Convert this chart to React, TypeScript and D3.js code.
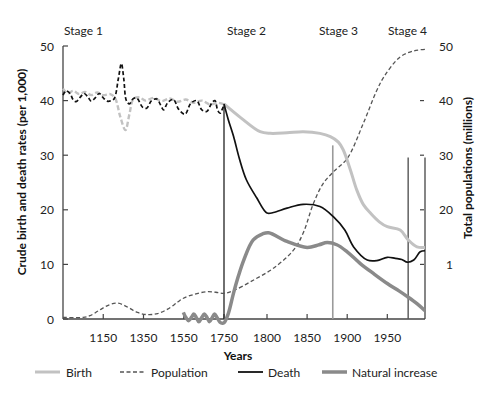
import React from "react";
import * as d3 from "d3";

type P = [number, number];

// ---- data (year, value) ----
const birthStage1: P[] = [
  [950, 42.2], [975, 41.3], [1000, 41.8], [1030, 41.2], [1060, 41.6], [1090, 41.0],
  [1120, 41.5], [1150, 41.0], [1185, 41.2], [1208, 40.5], [1235, 37.0], [1260, 34.6],
  [1280, 37.5], [1300, 40.3], [1330, 40.6], [1360, 40.0], [1400, 40.5], [1440, 39.9],
  [1480, 40.4], [1520, 39.8], [1560, 40.2], [1600, 39.6], [1640, 40.0], [1680, 39.3],
  [1720, 39.6], [1750, 39.3],
];
const deathStage1: P[] = [
  [950, 41.0], [965, 41.8], [985, 41.3], [1000, 40.2], [1015, 39.8], [1035, 40.6],
  [1055, 41.3], [1075, 40.6], [1090, 39.9], [1110, 40.5], [1130, 41.3], [1150, 40.5],
  [1170, 39.9], [1190, 40.0], [1205, 40.4], [1225, 44.0], [1240, 46.8], [1252, 44.0],
  [1265, 40.0], [1280, 39.4], [1300, 40.4], [1318, 40.4], [1345, 38.8], [1366, 38.6],
  [1390, 40.0], [1416, 40.3], [1440, 38.8], [1450, 38.3], [1470, 39.6], [1498, 40.2],
  [1525, 38.4], [1556, 37.5], [1585, 39.5], [1614, 40.0], [1640, 38.3], [1664, 38.0],
  [1690, 39.6], [1705, 40.0], [1718, 38.3], [1730, 37.7], [1742, 38.5], [1750, 39.3],
];
const birth: P[] = [
  [1750, 39.4], [1770, 36.8], [1792, 34.3], [1804, 34.0], [1825, 34.1], [1845, 34.3],
  [1866, 34.0], [1879, 33.4], [1889, 32.4], [1895, 31.0], [1904, 27.3], [1912, 23.6],
  [1920, 21.0], [1929, 19.4], [1940, 17.8], [1950, 16.9], [1966, 16.3], [1976, 14.5],
  [1987, 13.2], [1997, 13.1],
];
const death: P[] = [
  [1750, 39.4], [1755, 36.5], [1761, 33.5], [1768, 29.3], [1776, 25.5], [1788, 22.2],
  [1800, 19.4], [1808, 19.5], [1825, 20.3], [1845, 21.0], [1866, 20.6], [1883, 18.7],
  [1897, 16.3], [1908, 13.2], [1925, 10.8], [1937, 10.7], [1950, 11.3], [1960, 11.1],
  [1968, 10.9], [1975, 10.4], [1983, 10.8], [1991, 12.3], [1997, 12.5],
];
const naturalIncrease: P[] = [
  [1548, 1.2], [1560, 0.3], [1575, -0.3], [1590, 0.4], [1600, 0.9], [1612, 0.3],
  [1625, -0.5], [1640, 0.3], [1652, 0.9], [1665, 0.3], [1678, -0.5], [1692, 0.3],
  [1703, 0.9], [1715, 0.3], [1730, -0.6], [1742, -0.8], [1750, -0.7], [1755, 1.0],
  [1761, 4.7], [1767, 8.0], [1773, 10.8], [1784, 14.5], [1795, 15.6], [1802, 15.8],
  [1825, 14.2], [1850, 13.1], [1865, 13.6], [1875, 14.0], [1887, 13.6], [1900, 12.3],
  [1916, 10.2], [1933, 8.3], [1950, 6.5], [1965, 5.1], [1975, 4.1], [1987, 2.8],
  [1997, 1.5],
];
const population: P[] = [
  [950, 0.3], [1050, 0.3], [1084, 0.6], [1130, 1.6], [1180, 2.6], [1223, 2.9],
  [1270, 2.2], [1320, 1.2], [1370, 0.8], [1420, 1.0], [1470, 1.8], [1520, 3.1],
  [1548, 3.8], [1600, 4.5], [1664, 5.0], [1710, 4.9], [1750, 4.7], [1761, 5.2],
  [1784, 7.1], [1808, 9.3], [1833, 12.6], [1845, 15.7], [1858, 21.2], [1870, 24.8],
  [1883, 27.0], [1900, 29.4], [1920, 35.8], [1937, 41.9], [1946, 44.4], [1966, 48.0],
  [1983, 49.1], [1997, 49.4],
];

const xTicks = [1150, 1350, 1550, 1750, 1800, 1850, 1900, 1950];
const yTicksLeft = [0, 10, 20, 30, 40, 50];
const yTicksRight = [50, 40, 30, 20, 10];
const yTicksRightLabels = ["50", "40", "30", "20", "1"];
const stages = [
  { label: "Stage 1", x: 64 },
  { label: "Stage 2", x: 227 },
  { label: "Stage 3", x: 319 },
  { label: "Stage 4", x: 388 },
];
// stage dividers: [year, top value]
const dividers: { year: number; top: number; color: string; w: number }[] = [
  { year: 1750, top: 39.4, color: "#222", w: 1.3 },
  { year: 1882, top: 31.8, color: "#9a9a9a", w: 1.6 },
  { year: 1976, top: 29.6, color: "#555", w: 1.4 },
];

const FONT = "Lato, 'Open Sans', sans-serif";

export default function App() {
  const x = d3.scaleLinear().domain([950, 1750, 1800, 1997]).range([63, 224, 267, 425]);
  const y = d3.scaleLinear().domain([0, 50]).range([319, 46]);
  const line = d3
    .line<P>()
    .x((d) => x(d[0]))
    .y((d) => y(d[1]))
    .curve(d3.curveCatmullRom.alpha(0.5));

  const axisColor = "#444";
  const legend = [
    { label: "Birth", x1: 35, tx: 66, stroke: "#c2c2c2", w: 3, dash: undefined as string | undefined },
    { label: "Population", x1: 120, tx: 151, stroke: "#555", w: 1.4, dash: "4 2.5" },
    { label: "Death", x1: 238, tx: 268, stroke: "#111", w: 1.8, dash: undefined },
    { label: "Natural increase", x1: 322, tx: 352, stroke: "#8a8a8a", w: 3.5, dash: undefined },
  ];

  return (
    <svg
      width={482}
      height={393}
      style={{ position: "absolute", left: 0, top: 0, background: "#fff" }}
      fontFamily={FONT}
    >
      <rect width={482} height={393} fill="#fff" />

      {/* stage labels */}
      {stages.map((s) => (
        <text key={s.label} x={s.x} y={35} fontSize={12} fill="#222">
          {s.label}
        </text>
      ))}

      {/* left axis */}
      <line x1={63} x2={63} y1={y(50)} y2={y(0)} stroke={axisColor} strokeWidth={1.3} />
      {yTicksLeft.map((t) => (
        <g key={"l" + t}>
          <line x1={63} x2={68} y1={y(t)} y2={y(t)} stroke={axisColor} strokeWidth={1.2} />
          <text x={54} y={y(t) + 4.5} fontSize={12} textAnchor="end" fill="#222">
            {t}
          </text>
        </g>
      ))}

      {/* bottom axis */}
      <line x1={63} x2={425} y1={y(0)} y2={y(0)} stroke={axisColor} strokeWidth={1.3} />
      {xTicks.map((t) => (
        <g key={"x" + t}>
          <line x1={x(t)} x2={x(t)} y1={y(0)} y2={y(0) - 5} stroke={axisColor} strokeWidth={1.2} />
          <text x={x(t)} y={342} fontSize={12} textAnchor="middle" fill="#222">
            {t}
          </text>
        </g>
      ))}

      {/* right axis */}
      <line x1={425} x2={425} y1={y(29.6)} y2={y(0)} stroke={axisColor} strokeWidth={1.3} />
      {yTicksRight.map((t, i) => (
        <g key={"r" + t}>
          {t !== 50 && (
            <line x1={420} x2={424} y1={y(t)} y2={y(t)} stroke={axisColor} strokeWidth={1.2} />
          )}
          <text x={453} y={y(t) + 4.5} fontSize={12} textAnchor="end" fill="#222">
            {yTicksRightLabels[i]}
          </text>
        </g>
      ))}

      {/* dividers */}
      {dividers.map((d) => (
        <line
          key={"d" + d.year}
          x1={x(d.year)}
          x2={x(d.year)}
          y1={y(0)}
          y2={y(d.top)}
          stroke={d.color}
          strokeWidth={d.w}
        />
      ))}

      {/* series */}
      <path d={line(birthStage1) || ""} fill="none" stroke="#c2c2c2" strokeWidth={2.4} strokeDasharray="5 2.5" />
      <path d={line(deathStage1) || ""} fill="none" stroke="#111" strokeWidth={1.7} strokeDasharray="4 2.5" />
      <path d={line(population) || ""} fill="none" stroke="#555" strokeWidth={1.3} strokeDasharray="4 2.5" />
      <path d={line(birth) || ""} fill="none" stroke="#c2c2c2" strokeWidth={3} />
      <path d={line(naturalIncrease) || ""} fill="none" stroke="#8a8a8a" strokeWidth={3.5} />
      <path d={line(death) || ""} fill="none" stroke="#111" strokeWidth={1.7} />

      {/* axis titles */}
      <text
        transform={`translate(26,${172}) rotate(-90)`}
        fontSize={12}
        fontWeight="bold"
        textAnchor="middle"
        fill="#111"
      >
        Crude birth and death rates (per 1,000)
      </text>
      <text
        transform={`translate(472,${168}) rotate(-90)`}
        fontSize={12}
        fontWeight="bold"
        textAnchor="middle"
        fill="#111"
      >
        Total populations (millions)
      </text>
      <text x={238} y={360} fontSize={12} fontWeight="bold" textAnchor="middle" fill="#111">
        Years
      </text>

      {/* legend */}
      {legend.map((l) => (
        <g key={l.label}>
          <line
            x1={l.x1}
            x2={l.x1 + 25}
            y1={372}
            y2={372}
            stroke={l.stroke}
            strokeWidth={l.w}
            strokeDasharray={l.dash}
          />
          <text x={l.tx} y={376.5} fontSize={12} fill="#222">
            {l.label}
          </text>
        </g>
      ))}
    </svg>
  );
}
